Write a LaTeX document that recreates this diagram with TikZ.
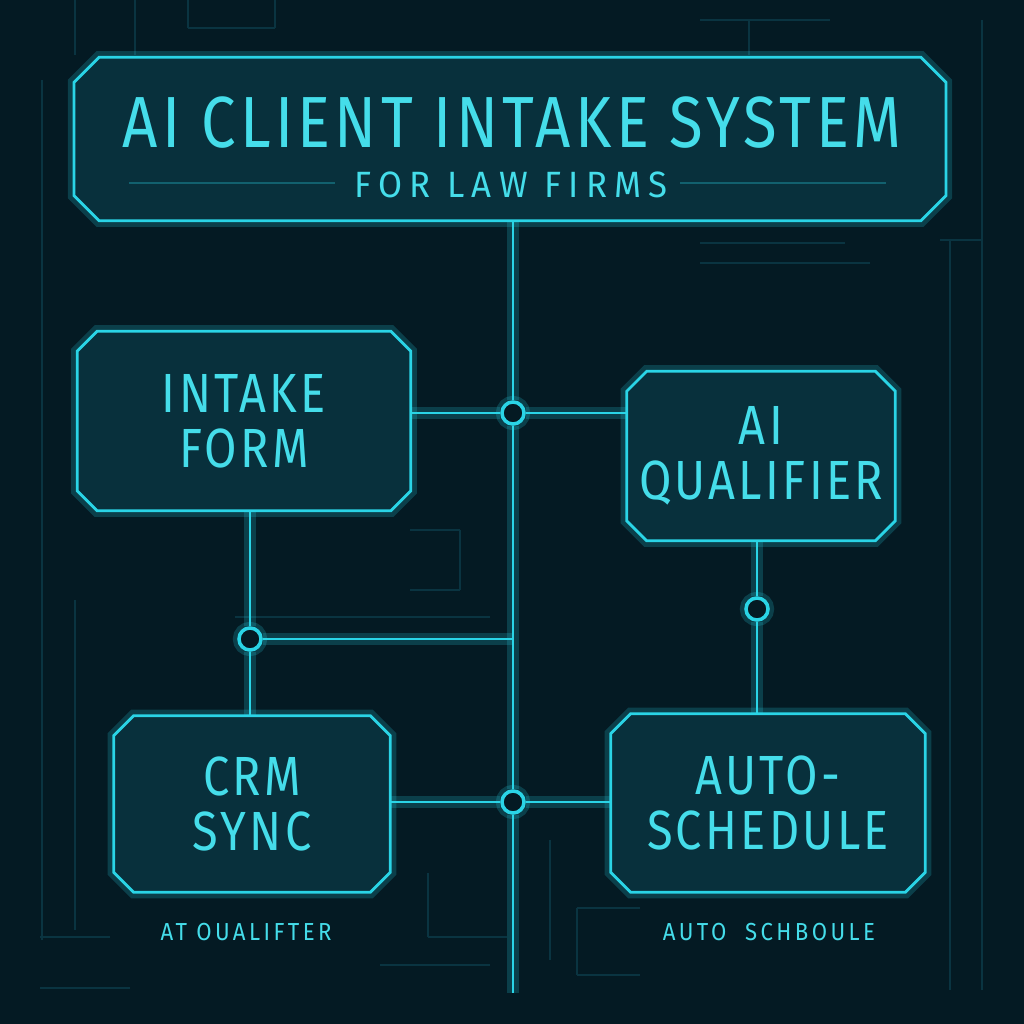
\documentclass[tikz,border=0pt]{standalone}
\usepackage{fontspec}
\setmainfont{Fira Sans}
\newfontfamily\neon{Fira Sans}[FakeStretch=0.85,LetterSpace=6]
\newfontfamily\neonwide{Fira Sans}[FakeStretch=0.9,LetterSpace=14]
\newfontfamily\neonsub{Fira Sans}[FakeStretch=0.95,LetterSpace=20]
\usetikzlibrary{positioning,backgrounds}
\definecolor{bgdark}{HTML}{041A23}
\definecolor{boxfill}{HTML}{08303C}
\definecolor{neonline}{HTML}{2AD4E6}
\definecolor{neontext}{HTML}{45DDEA}
\definecolor{trace}{HTML}{0A3441}
\begin{document}
\begin{tikzpicture}[x=0.01cm, y=-0.01cm,
  glow/.style={preaction={draw=neonline, line width=3.5pt, draw opacity=0.2}},
  panel/.style={rectangle, inner sep=0pt, text=neontext, align=center,
    font=\neon\fontsize{15.7}{15.6}\selectfont},
  outline/.style={draw=neonline, line width=0.8pt, fill=boxfill, glow, line join=miter},
  joint/.style={circle, draw=neonline, line width=1pt, fill=bgdark, glow,
    minimum size=2.2mm, inner sep=0pt},
  wire/.style={draw=neonline, line width=0.8pt, glow},
  caption/.style={text=neontext, font=\neonwide\fontsize{7}{8}\selectfont, anchor=base}]
\useasboundingbox (0,0) rectangle (1024,1024);
% title panel
\node[panel, minimum width=8.7cm, minimum height=1.62cm] (title) at (510,139) {};
\node[text=neontext, font=\neon\fontsize{20.6}{24}\selectfont, anchor=base] (titlename)
  at (512,147) {AI CLIENT INTAKE SYSTEM};
\node[text=neontext, font=\neonsub\fontsize{10.4}{12}\selectfont, anchor=base] (subname)
  at (511,197) {FOR LAW FIRMS};
% the four stages
\node[panel, minimum width=3.32cm, minimum height=1.78cm] (intake) at (244,421) {INTAKE\\FORM};
\node[panel, minimum width=2.67cm, minimum height=1.68cm] (qualify) at (761,456) {AI\\QUALIFIER};
\node[panel, minimum width=2.75cm, minimum height=1.75cm] (crm) at (252,804) {CRM\\SYNC};
\node[panel, minimum width=3.13cm, minimum height=1.77cm] (sched) at (768,803) {AUTO-\\SCHEDULE};
% backdrop, faint circuit traces and chamfered outlines behind the text
\begin{scope}[on background layer]
\fill[bgdark] (0,0) rectangle (1024,1024);
\foreach \a/\b/\c/\d in {42/80/42/940, 75/0/75/55, 75/600/75/930, 135/0/135/55,
    188/0/188/28, 188/28/275/28, 275/0/275/28, 749/20/749/55, 700/20/830/20,
    982/20/982/990, 950/240/950/990, 940/240/982/240, 700/243/845/243,
    700/263/870/263, 40/937/110/937, 40/988/130/988, 235/617/490/617,
    410/530/460/530, 460/530/460/590, 410/590/460/590, 380/965/490/965,
    550/840/550/960, 577/908/640/908, 577/908/577/975, 577/975/640/975,
    428/873/428/937, 428/937/507/937}
  \draw[trace, line width=0.5pt] (\a,\b) -- (\c,\d);
\foreach \n/\c in {title/2.5mm, intake/2mm, qualify/2mm, crm/2mm, sched/2mm}
  \draw[outline] ([xshift=\c]\n.north west) -- ([xshift=-\c]\n.north east)
    -- ([yshift=-\c]\n.north east) -- ([yshift=\c]\n.south east)
    -- ([xshift=-\c]\n.south east) -- ([xshift=\c]\n.south west)
    -- ([yshift=\c]\n.south west) -- ([yshift=-\c]\n.north west) -- cycle;
\draw[neonline, line width=0.6pt, opacity=0.3] (129,183) -- (335,183);
\draw[neonline, line width=0.6pt, opacity=0.3] (680,183) -- (886,183);
\end{scope}
% junctions
\node[joint] (j1) at (513,413) {};
\node[joint] (j2) at (250,639) {};
\node[joint] (j3) at (757,609) {};
\node[joint] (j4) at (513,802) {};
\coordinate (tap) at (513,639);
\coordinate (trunkend) at (513,993);
% wiring
\draw[wire] (title.south -| j1) -- (j1) -- (tap) -- (j4) -- (trunkend);
\draw[wire] (intake.east |- j1) -- (j1) -- (qualify.west |- j1);
\draw[wire] (intake.south -| j2) -- (j2) -- (crm.north -| j2);
\draw[wire] (j2) -- (tap);
\draw[wire] (qualify.south -| j3) -- (j3) -- (sched.north -| j3);
\draw[wire] (crm.east |- j4) -- (j4) -- (sched.west |- j4);
% small captions under the bottom row
\node[caption] (capleft) at (246,940) {AT OUALIFTER};
\node[caption] (capright) at (769,940) {AUTO\ \ SCHBOULE};
\end{tikzpicture}
\end{document}
